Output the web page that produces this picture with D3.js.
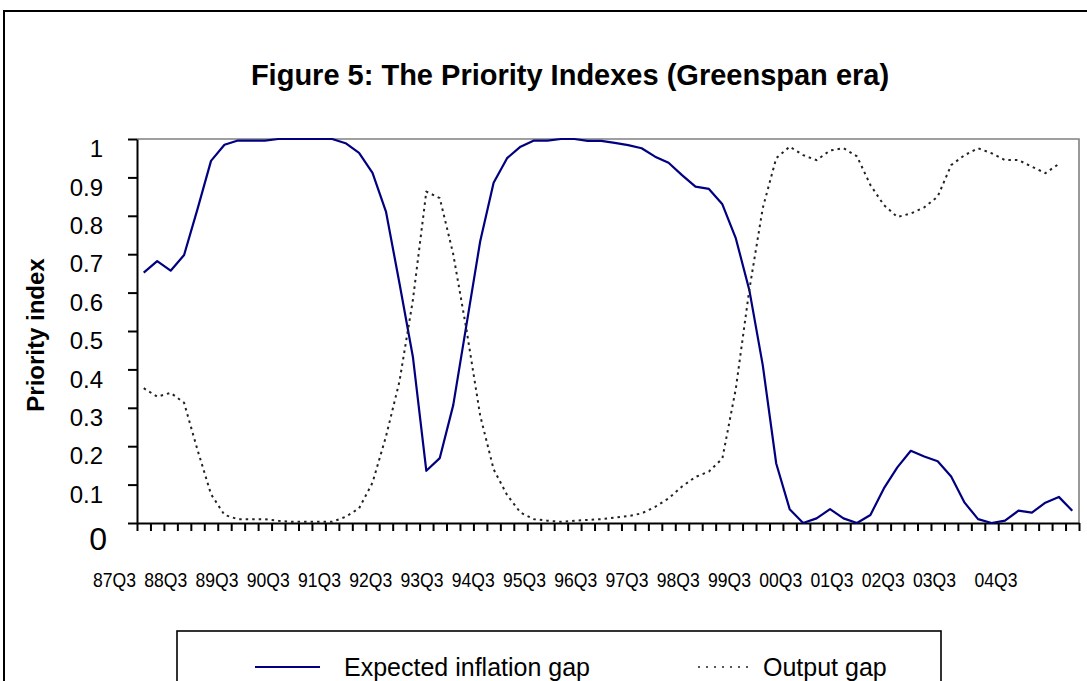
<!DOCTYPE html>
<html>
<head>
<meta charset="utf-8">
<script src="https://cdn.jsdelivr.net/npm/d3@7/dist/d3.min.js"></script>
<style>
	html, body { margin:0; padding:0; background:#fff; }
	svg { display:block; font-family: Arial, "Liberation Sans", sans-serif; }
</style>
</head>
<body>
<div id="chart"></div>
<script>
const title = 'Figure 5: The Priority Indexes (Greenspan era)';
const yTitle = 'Priority index';

// quarters 87Q3 .. 04Q4
const quarters = [];
for (let yr = 1987; yr <= 2004; yr++) {
	for (let q = 1; q <= 4; q++) {
		if (yr == 1987 && q < 3) continue;
		quarters.push(String(yr).slice(2) + 'Q' + q);
	}
}

const xLabels = ['87Q3','88Q3','89Q3','90Q3','91Q3','92Q3','93Q3','94Q3','95Q3','96Q3',
	'97Q3','98Q3','99Q3','00Q3','01Q3','02Q3','03Q3','04Q3'];
const yTicks = [0,0.1,0.2,0.3,0.4,0.5,0.6,0.7,0.8,0.9,1];

const inflationGap = [0.652,0.682,0.657,0.698,0.818,0.943,0.985,0.996,0.996,0.996,
	1.0,1.0,1.0,1.0,1.0,0.989,0.964,0.912,0.811,0.625,
	0.433,0.136,0.169,0.307,0.52,0.733,0.886,0.95,0.98,0.996,
	0.996,1.0,1.0,0.995,0.995,0.99,0.984,0.976,0.954,0.938,
	0.906,0.876,0.87,0.83,0.741,0.607,0.411,0.155,0.036,0.0,
	0.012,0.036,0.012,0.0,0.021,0.09,0.145,0.188,0.173,0.161,
	0.121,0.053,0.01,0.0,0.006,0.032,0.027,0.053,0.068,0.032];

const outputGap = [0.351,0.329,0.339,0.313,0.19,0.075,0.021,0.01,0.01,0.01,
	0.006,0.003,0.003,0.003,0.003,0.016,0.038,0.105,0.225,0.368,
	0.58,0.863,0.846,0.70,0.50,0.28,0.14,0.073,0.027,0.01,
	0.006,0.003,0.006,0.008,0.01,0.014,0.018,0.025,0.042,0.064,
	0.095,0.12,0.134,0.168,0.35,0.607,0.82,0.95,0.98,0.958,
	0.945,0.97,0.976,0.955,0.88,0.828,0.797,0.806,0.822,0.85,
	0.932,0.958,0.976,0.963,0.945,0.945,0.928,0.911,0.935,null];

const series = [
	{name:'Expected inflation gap', values:inflationGap, color:'#000080', width:2.2, dash:null},
	{name:'Output gap', values:outputGap, color:'#222', width:2, dash:'2.5,4'}
];

const W = 1087, H = 681;
const plot = {left:137, right:1079, top:139, bottom:523};

const svg = d3.select('#chart').append('svg')
	.attr('width', W)
	.attr('height', H);

// outer frame
svg.append('rect')
	.attr('x', 4).attr('y', 11)
	.attr('width', W + 20).attr('height', H + 20)
	.style('fill','none').style('stroke','#000').style('stroke-width',2);

svg.append('text')
	.attr('x', 570).attr('y', 85)
	.attr('text-anchor','middle')
	.style('font-size','29px').style('font-weight','bold')
	.text(title);

const x = d3.scaleBand().domain(quarters).range([plot.left, plot.right]).padding(0);
const xEdge = d3.scaleLinear().domain([0, quarters.length]).range([plot.left, plot.right]);
const y = d3.scaleLinear().domain([0,1]).range([plot.bottom, plot.top]);

// top/right plot border
svg.append('path')
	.attr('d', `M${plot.left},${plot.top}H${plot.right}V${plot.bottom}`)
	.style('fill','none').style('stroke','#808080').style('stroke-width',1.6);

const yAxis = svg.append('g')
	.attr('class','axis y')
	.attr('transform', `translate(${plot.left},0)`)
	.call(d3.axisLeft(y).tickValues(yTicks).tickSize(9).tickSizeOuter(0)
		.tickFormat(d => d3.format('')(+d.toFixed(1))));

yAxis.selectAll('path, line').style('stroke','#000').style('stroke-width',2);
yAxis.selectAll('text')
	.attr('x', -34)
	.attr('y', d => d == 0 ? 16 : 10)
	.style('font-size', d => d == 0 ? '32px' : '24px')
	.style('font-family','Arial, "Liberation Sans", sans-serif')
	.style('fill','#000');
yAxis.selectAll('text').filter(d => d == 0).attr('x', -30);

const xAxis = svg.append('g')
	.attr('class','axis x')
	.attr('transform', `translate(0,${plot.bottom})`)
	.call(d3.axisBottom(xEdge).tickValues(d3.range(quarters.length + 1)).tickSize(8).tickSizeOuter(0).tickFormat(''));
xAxis.selectAll('path, line').style('stroke','#000').style('stroke-width',2);

// year labels sit in their own evenly spaced row (not on the category ticks), 04Q3 after a wider gap
const labelPos = d3.scalePoint().domain(xLabels.slice(0, -1)).range([93, 913]);
const labelX = (d, i) => i < xLabels.length - 1 ? labelPos(d) : labelPos(xLabels[i - 1]) + labelPos.step() * 1.2;

svg.append('g').attr('class','xlabels')
	.selectAll('text')
	.data(xLabels)
	.join('text')
	.attr('x', labelX)
	.attr('y', 587)
	.attr('textLength', 43)
	.attr('lengthAdjust','spacingAndGlyphs')
	.style('font-size','21px')
	.text(d => d);

svg.append('text')
	.attr('transform','translate(35,335) rotate(-90)')
	.attr('text-anchor','middle')
	.attr('dominant-baseline','central')
	.style('font-size','24px').style('font-weight','bold')
	.text(yTitle);

const line = d3.line()
	.defined(d => d.v != null)
	.x(d => x(d.q) + x.bandwidth()/2)
	.y(d => y(d.v));

svg.append('g').selectAll('path.series')
	.data(series)
	.join('path')
	.attr('class','series')
	.attr('d', s => line(s.values.map((v,i) => ({q:quarters[i], v:v}))))
	.style('fill','none')
	.style('stroke', s => s.color)
	.style('stroke-width', s => s.width)
	.style('stroke-dasharray', s => s.dash)
	.style('stroke-linejoin','round');

// legend
const legend = svg.append('g').attr('class','legend');
legend.append('rect')
	.attr('x', 177).attr('y', 631)
	.attr('width', 764).attr('height', 100)
	.style('fill','#fff').style('stroke','#000').style('stroke-width',1.6);

const legendPos = [{lx:255, tx:344}, {lx:698, tx:763}];
series.forEach((s, i) => {
	const p = legendPos[i];
	legend.append('line')
		.attr('x1', p.lx).attr('x2', p.lx + (i == 0 ? 65 : 55))
		.attr('y1', 667).attr('y2', 667)
		.style('stroke', s.color)
		.style('stroke-width', i == 0 ? 2.2 : 1.5)
		.style('stroke-dasharray', i == 0 ? null : '2,6');
	legend.append('text')
		.attr('x', p.tx).attr('y', 676)
		.style('font-size','25px')
		.text(s.name);
});
</script>
</body>
</html>
